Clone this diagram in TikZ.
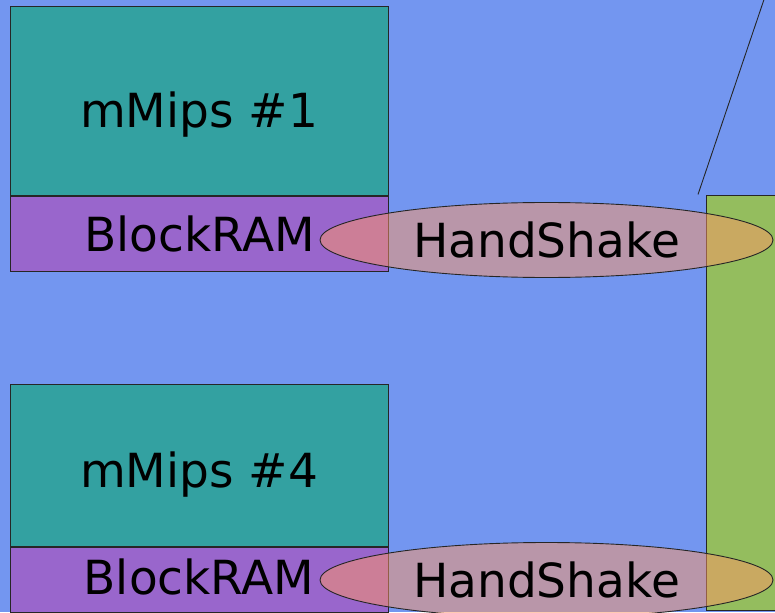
\documentclass[tikz,border=0pt]{standalone}
\usepackage{fontspec}
\setmainfont{DejaVu Sans}
\usetikzlibrary{shapes.geometric}

\definecolor{bgblue}{RGB}{115,150,240}
\definecolor{cputeal}{RGB}{51,161,161}
\definecolor{rampurple}{RGB}{153,102,204}
\definecolor{busgreen}{RGB}{148,189,94}
\definecolor{shakepink}{RGB}{255,150,100}

\tikzset{
    block/.style={draw=black!85, line width=0.9pt, inner sep=0pt, anchor=north west},
    cpu/.style={block, fill=cputeal, minimum width=378pt},
    ram/.style={block, fill=rampurple, minimum width=378pt},
    shake/.style={ellipse, draw=black!85, line width=0.9pt, fill=shakepink, fill opacity=0.5,
        text opacity=1, minimum width=453pt, minimum height=75pt, inner sep=0pt},
    lbl/.style={font=\fontsize{47}{56}\selectfont, inner sep=0pt}
}

\begin{document}
\begin{tikzpicture}[x=1pt, y=-1pt]
    % Background
    \fill[bgblue] (0,0) rectangle (775,612);
    \useasboundingbox (0,0) rectangle (775,612);
    \clip (0,0) rectangle (775,612);

    % First core with its memory
    \node[cpu, minimum height=189pt] (cpuA) at (10,6) {};
    \node[ram, minimum height=75pt] (ramA) at (cpuA.south west) {};
    \node[lbl, anchor=base] (cpuA-txt) at (199,128) {mMips \#1};
    \node[lbl] (ramA-txt) at (ramA.center) {BlockRAM};

    % Fourth core with its memory
    \node[cpu, minimum height=162pt] (cpuD) at (10,384) {};
    \node[ram, minimum height=65pt] (ramD) at (cpuD.south west) {};
    \node[lbl, anchor=base] (cpuD-txt) at (199,487) {mMips \#4};
    \node[lbl, anchor=base] (ramD-txt) at (199,594) {BlockRAM};

    % Shared bus
    \node[block, fill=busgreen, minimum width=100pt, minimum height=415pt] (bus) at (706,195) {};

    % Handshake links
    \node[shake, lbl] (shakeA) at (546.5,240) {HandShake};
    \node[shake, lbl] (shakeD) at (546.5,580) {HandShake};

    % Pointer line
    \coordinate (tap) at (698,194.5);
    \coordinate (away) at (764.5,-2);
    \draw[black!85, line width=0.9pt] (tap) -- (away);
\end{tikzpicture}
\end{document}
